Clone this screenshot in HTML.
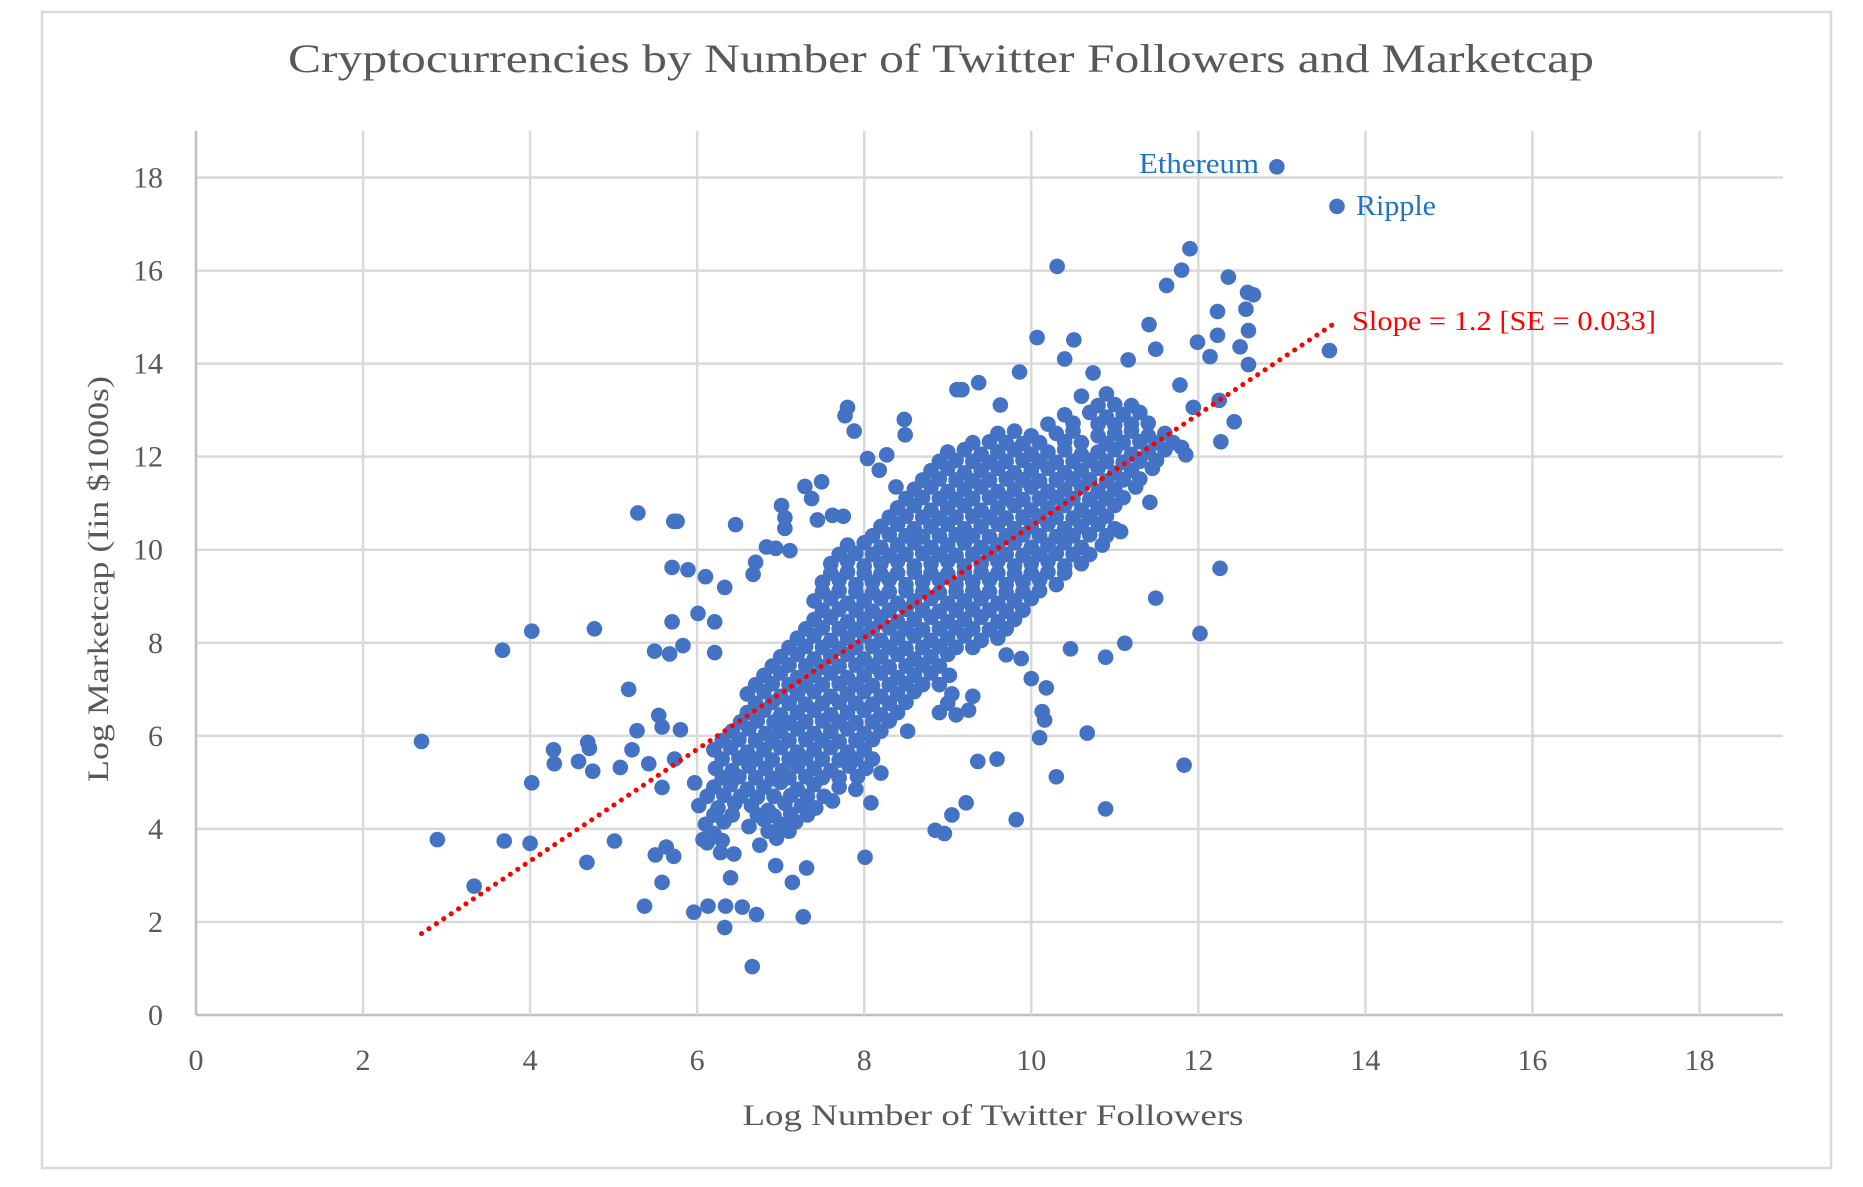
<!DOCTYPE html>
<html><head><meta charset="utf-8"><style>
html,body{margin:0;padding:0;background:#fff;}
svg{display:block;font-family:"Liberation Serif",serif;}
</style></head><body>
<svg id="chart" width="1863" height="1187" viewBox="0 0 1863 1187" xmlns="http://www.w3.org/2000/svg">
<rect x="42" y="12" width="1789" height="1156" fill="#fff" stroke="#d9d9d9" stroke-width="2.5"/>
<text x="941" y="72" text-anchor="middle" font-size="40" fill="#595959" textLength="1306" lengthAdjust="spacingAndGlyphs">Cryptocurrencies by Number of Twitter Followers and Marketcap</text>
<g id="grid"></g>
<g id="ticks"></g>
<g id="trend"></g>
<g id="points"></g>
<text x="993" y="1125" text-anchor="middle" font-size="30" fill="#595959" textLength="501" lengthAdjust="spacingAndGlyphs">Log Number of Twitter Followers</text>
<text transform="translate(108,579) rotate(-90)" text-anchor="middle" font-size="30" fill="#595959" textLength="406" lengthAdjust="spacingAndGlyphs">Log Marketcap (Iin $1000s)</text>
<text x="1259" y="173" text-anchor="end" font-size="29" fill="#1f73c0" textLength="120" lengthAdjust="spacingAndGlyphs">Ethereum</text>
<text x="1356" y="215" font-size="29" fill="#1f73c0" textLength="80" lengthAdjust="spacingAndGlyphs">Ripple</text>
<text x="1352" y="330" font-size="27" fill="#ff0000" textLength="304" lengthAdjust="spacingAndGlyphs">Slope = 1.2 [SE = 0.033]</text>
</svg>
<script>
const xTicks=[0,2,4,6,8,10,12,14,16,18];
const yTicks=[0,2,4,6,8,10,12,14,16,18];
const xMax=19, yMax=19;
const trendX=[2.7,13.6];
const trendSlope=1.2, trendIntercept=-1.49;
const highlights=[[12.94,18.23],[13.66,17.38]];
const outliers=[[2.70,5.88],[2.89,3.77],[3.33,2.77],[3.67,7.84],[3.69,3.74],[4.0,3.69],[4.02,8.25],[4.02,4.99],[4.28,5.7],[4.29,5.4],[4.58,5.45],[4.69,5.86],[4.71,5.73],[4.68,3.28],[4.75,5.24],[4.77,8.30],[5.01,3.74],[5.08,5.32],[5.18,7.0],[5.22,5.7],[5.28,6.11],[5.29,10.79],[5.37,2.34],[5.42,5.40],[5.49,7.82],[5.50,3.44],[5.54,6.44],[5.58,2.85],[5.58,6.19],[5.58,4.89],[5.63,3.61],[5.67,7.76],[5.70,8.45],[5.70,9.62],[5.72,10.61],[5.76,10.61],[5.72,3.41],[5.73,5.5],[5.80,6.13],[5.83,7.94],[5.89,9.57],[5.96,2.21],[5.97,4.99],[6.01,8.63],[6.07,3.77],[6.10,9.42],[6.13,2.34],[6.21,8.45],[6.21,7.79],[6.28,3.49],[6.33,1.88],[6.33,9.19],[6.34,2.34],[6.40,2.95],[6.44,3.46],[6.46,10.54],[6.54,2.32],[6.66,1.04],[6.71,2.16],[7.27,2.11],[7.14,2.85],[6.94,3.21],[7.31,3.16],[7.01,10.95],[7.05,10.69],[7.05,10.46],[7.29,11.36],[7.49,11.46],[7.77,12.88],[7.80,13.06],[7.88,12.55],[8.01,3.39],[8.08,4.56],[8.48,12.8],[8.49,12.47],[8.85,3.97],[8.96,3.90],[9.05,4.30],[9.22,4.56],[9.36,5.45],[9.59,5.5],[9.82,4.20],[10.30,5.12],[10.89,4.43],[10.67,6.06],[11.83,5.37],[10.13,6.52],[10.18,7.03],[10.10,5.96],[10.16,6.34],[10.00,7.23],[9.70,7.74],[9.88,7.66],[12.02,8.20],[12.26,9.6],[11.49,8.96],[11.12,7.99],[10.89,7.69],[10.47,7.87],[11.42,11.02],[11.07,10.39],[10.31,16.09],[11.90,16.47],[11.80,16.01],[11.62,15.68],[12.36,15.86],[12.59,15.53],[12.66,15.48],[12.57,15.17],[12.23,15.12],[12.23,14.61],[12.60,14.71],[11.99,14.46],[12.14,14.15],[12.50,14.36],[12.60,13.98],[13.57,14.28],[11.41,14.84],[11.49,14.31],[10.07,14.56],[10.51,14.51],[10.40,14.10],[9.86,13.82],[10.74,13.80],[11.16,14.08],[12.43,12.75],[12.27,12.32],[11.85,12.04],[12.25,13.21],[11.94,13.06],[11.78,13.54],[9.17,13.44],[9.37,13.59],[9.63,13.11],[9.11,13.44],[8.27,12.04],[8.04,11.96],[8.18,11.71],[8.38,11.35],[7.75,10.72],[7.62,10.74],[7.44,10.64],[7.37,11.10],[6.83,10.06],[6.94,10.03],[7.11,9.98],[6.70,9.73],[6.67,9.47]];
const core=[[6.12,3.7],[6.3,3.75],[6.75,3.65],[6.95,3.8],
[6.1,4.1],[6.32,4.15],[6.62,4.05],[6.8,4.2],[7.0,4.1],[7.18,4.15],
[6.02,4.5],[6.25,4.45],[6.45,4.55],[6.65,4.5],[6.85,4.4],[7.05,4.55],[7.25,4.5],[7.42,4.45],[7.62,4.6],
[6.2,4.9],[6.4,4.95],[6.6,4.85],[6.8,4.9],[7.0,5.0],[7.2,4.85],[7.4,4.95],[7.7,4.9],[7.9,4.85],
[6.22,5.3],[6.42,5.25],[6.62,5.35],[6.82,5.3],[7.02,5.25],[7.2,5.35],[7.4,5.3],[7.6,5.25],[7.82,5.35],[8.02,5.3],[8.2,5.2],
[6.2,5.7],[6.4,5.75],[6.6,5.65],[6.8,5.7],[7.0,5.75],[7.2,5.65],[7.4,5.7],[7.6,5.75],[7.8,5.65],[8.0,5.7],
[6.42,6.1],[6.62,6.15],[6.82,6.05],[7.0,6.1],[7.2,6.15],[7.4,6.05],[7.6,6.1],[7.8,6.15],[8.0,6.05],[8.2,6.1],[8.52,6.1],
[6.6,6.5],[6.8,6.55],[7.0,6.45],[7.2,6.5],[7.4,6.55],[7.6,6.45],[7.8,6.5],[8.0,6.55],[8.2,6.45],[8.4,6.5],[8.9,6.5],[9.1,6.45],[9.25,6.55],
[6.6,6.9],[6.8,6.95],[7.0,6.85],[7.2,6.9],[7.4,6.95],[7.6,6.85],[7.8,6.9],[8.0,6.95],[8.2,6.85],[8.4,6.9],[8.6,6.95],[9.05,6.9],[9.3,6.85],
[6.8,7.3],[7.0,7.35],[7.2,7.25],[7.4,7.3],[7.6,7.35],[7.8,7.25],[8.0,7.3],[8.2,7.35],[8.4,7.25],[8.6,7.3],[8.8,7.35],[9.02,7.3],
[7.0,7.7],[7.2,7.75],[7.4,7.65],[7.6,7.7],[7.8,7.75],[8.0,7.65],[8.2,7.7],[8.4,7.75],[8.6,7.65],[8.8,7.7],[9.0,7.75],
[7.2,8.1],[7.4,8.15],[7.6,8.05],[7.8,8.1],[8.0,8.15],[8.2,8.05],[8.4,8.1],[8.6,8.15],[8.8,8.05],[9.0,8.1],[9.2,8.15],[9.4,8.05],[9.6,8.1],
[7.4,8.5],[7.6,8.55],[7.8,8.45],[8.0,8.5],[8.2,8.55],[8.4,8.45],[8.6,8.5],[8.8,8.55],[9.0,8.45],[9.2,8.5],[9.4,8.55],[9.6,8.45],[9.8,8.5],
[7.4,8.9],[7.6,8.95],[7.8,8.85],[8.0,8.9],[8.2,8.95],[8.4,8.85],[8.6,8.9],[8.8,8.95],[9.0,8.85],[9.2,8.9],[9.4,8.95],[9.6,8.85],[9.8,8.9],[10.0,8.95],
[7.5,9.3],[7.7,9.35],[7.9,9.25],[8.1,9.3],[8.3,9.35],[8.5,9.25],[8.7,9.3],[8.9,9.35],[9.1,9.25],[9.3,9.3],[9.5,9.35],[9.7,9.25],[9.9,9.3],[10.1,9.35],[10.3,9.25],
[7.6,9.7],[7.8,9.75],[8.0,9.65],[8.2,9.7],[8.4,9.75],[8.6,9.65],[8.8,9.7],[9.0,9.75],[9.2,9.65],[9.4,9.7],[9.6,9.75],[9.8,9.65],[10.0,9.7],[10.2,9.75],[10.4,9.65],[10.6,9.7],
[7.8,10.1],[8.0,10.15],[8.2,10.05],[8.4,10.1],[8.6,10.15],[8.8,10.05],[9.0,10.1],[9.2,10.15],[9.4,10.05],[9.6,10.1],[9.8,10.15],[10.0,10.05],[10.2,10.1],[10.4,10.15],[10.6,10.05],[10.85,10.1],
[8.2,10.5],[8.4,10.55],[8.6,10.45],[8.8,10.5],[9.0,10.55],[9.2,10.45],[9.4,10.5],[9.6,10.55],[9.8,10.45],[10.0,10.5],[10.2,10.55],[10.4,10.45],[10.6,10.5],[10.8,10.55],[11.0,10.45],
[8.4,10.9],[8.6,10.95],[8.8,10.85],[9.0,10.9],[9.2,10.95],[9.4,10.85],[9.6,10.9],[9.8,10.95],[10.0,10.85],[10.2,10.9],[10.4,10.95],[10.6,10.85],[10.8,10.9],[11.0,10.95],
[8.6,11.3],[8.8,11.35],[9.0,11.25],[9.2,11.3],[9.4,11.35],[9.6,11.25],[9.8,11.3],[10.0,11.35],[10.2,11.25],[10.4,11.3],[10.6,11.35],[10.8,11.25],[11.0,11.3],[11.25,11.35],
[8.8,11.7],[9.0,11.75],[9.2,11.65],[9.4,11.7],[9.6,11.75],[9.8,11.65],[10.0,11.7],[10.2,11.75],[10.4,11.65],[10.6,11.7],[10.8,11.75],[11.0,11.65],[11.2,11.7],[11.45,11.75],
[9.0,12.1],[9.2,12.15],[9.4,12.05],[9.6,12.1],[9.8,12.15],[10.0,12.05],[10.2,12.1],[10.4,12.15],[10.6,12.05],[10.8,12.1],[11.0,12.15],[11.2,12.05],[11.4,12.1],[11.6,12.15],[11.8,12.2],
[9.6,12.5],[9.8,12.55],[10.0,12.45],[10.3,12.5],[10.5,12.55],[10.8,12.45],[11.0,12.5],[11.2,12.55],[11.4,12.45],[11.6,12.5],
[10.4,12.9],[10.7,12.95],[10.9,12.85],[11.1,12.9],[11.3,12.95],
[10.6,13.3],[10.9,13.35]];
const core2=[[6.2,3.9],[6.85,3.95],[7.1,3.95],
[6.2,4.3],[6.42,4.3],[6.72,4.3],[6.92,4.28],[7.12,4.32],[7.32,4.3],
[6.12,4.7],[6.32,4.72],[6.52,4.7],[6.72,4.68],[6.92,4.7],[7.12,4.72],[7.32,4.7],[7.52,4.7],
[6.3,5.1],[6.5,5.12],[6.7,5.1],[6.9,5.08],[7.1,5.1],[7.3,5.12],[7.5,5.1],[7.7,5.1],[7.92,5.12],
[6.3,5.5],[6.5,5.52],[6.7,5.5],[6.9,5.48],[7.1,5.5],[7.3,5.52],[7.5,5.5],[7.7,5.48],[7.9,5.5],[8.1,5.5],
[6.3,5.9],[6.5,5.92],[6.7,5.9],[6.9,5.88],[7.1,5.9],[7.3,5.92],[7.5,5.9],[7.7,5.88],[7.9,5.9],[8.1,5.92],
[6.52,6.3],[6.72,6.32],[6.92,6.3],[7.1,6.28],[7.3,6.3],[7.5,6.32],[7.7,6.3],[7.9,6.28],[8.1,6.3],[8.3,6.32],
[6.7,6.7],[6.9,6.72],[7.1,6.7],[7.3,6.68],[7.5,6.7],[7.7,6.72],[7.9,6.7],[8.1,6.68],[8.3,6.7],[8.5,6.72],[9.0,6.7],
[6.7,7.1],[6.9,7.12],[7.1,7.1],[7.3,7.08],[7.5,7.1],[7.7,7.12],[7.9,7.1],[8.1,7.08],[8.3,7.1],[8.5,7.12],[8.7,7.1],[8.9,7.1],
[6.9,7.5],[7.1,7.52],[7.3,7.5],[7.5,7.48],[7.7,7.5],[7.9,7.52],[8.1,7.5],[8.3,7.48],[8.5,7.5],[8.7,7.52],[8.9,7.5],
[7.1,7.9],[7.3,7.92],[7.5,7.9],[7.7,7.88],[7.9,7.9],[8.1,7.92],[8.3,7.9],[8.5,7.88],[8.7,7.9],[8.9,7.92],[9.1,7.9],[9.3,7.9],
[7.3,8.3],[7.5,8.32],[7.7,8.3],[7.9,8.28],[8.1,8.3],[8.3,8.32],[8.5,8.3],[8.7,8.28],[8.9,8.3],[9.1,8.32],[9.3,8.3],[9.5,8.28],[9.7,8.3],
[7.5,8.7],[7.7,8.72],[7.9,8.7],[8.1,8.68],[8.3,8.7],[8.5,8.72],[8.7,8.7],[8.9,8.68],[9.1,8.7],[9.3,8.72],[9.5,8.7],[9.7,8.68],[9.9,8.7],
[7.5,9.1],[7.7,9.12],[7.9,9.1],[8.1,9.08],[8.3,9.1],[8.5,9.12],[8.7,9.1],[8.9,9.08],[9.1,9.1],[9.3,9.12],[9.5,9.1],[9.7,9.08],[9.9,9.1],[10.1,9.12],
[7.6,9.5],[7.8,9.52],[8.0,9.5],[8.2,9.48],[8.4,9.5],[8.6,9.52],[8.8,9.5],[9.0,9.48],[9.2,9.5],[9.4,9.52],[9.6,9.5],[9.8,9.48],[10.0,9.5],[10.2,9.52],[10.4,9.5],
[7.7,9.9],[7.9,9.92],[8.1,9.9],[8.3,9.88],[8.5,9.9],[8.7,9.92],[8.9,9.9],[9.1,9.88],[9.3,9.9],[9.5,9.92],[9.7,9.9],[9.9,9.88],[10.1,9.9],[10.3,9.92],[10.5,9.9],[10.7,9.9],
[8.1,10.3],[8.3,10.32],[8.5,10.3],[8.7,10.28],[8.9,10.3],[9.1,10.32],[9.3,10.3],[9.5,10.28],[9.7,10.3],[9.9,10.32],[10.1,10.3],[10.3,10.28],[10.5,10.3],[10.7,10.32],[10.9,10.3],
[8.3,10.7],[8.5,10.72],[8.7,10.7],[8.9,10.68],[9.1,10.7],[9.3,10.72],[9.5,10.7],[9.7,10.68],[9.9,10.7],[10.1,10.72],[10.3,10.7],[10.5,10.68],[10.7,10.7],[10.9,10.72],
[8.5,11.1],[8.7,11.12],[8.9,11.1],[9.1,11.08],[9.3,11.1],[9.5,11.12],[9.7,11.1],[9.9,11.08],[10.1,11.1],[10.3,11.12],[10.5,11.1],[10.7,11.08],[10.9,11.1],[11.1,11.12],
[8.7,11.5],[8.9,11.52],[9.1,11.5],[9.3,11.48],[9.5,11.5],[9.7,11.52],[9.9,11.5],[10.1,11.48],[10.3,11.5],[10.5,11.52],[10.7,11.5],[10.9,11.48],[11.1,11.5],[11.3,11.52],
[8.9,11.9],[9.1,11.92],[9.3,11.9],[9.5,11.88],[9.7,11.9],[9.9,11.92],[10.1,11.9],[10.3,11.88],[10.5,11.9],[10.7,11.92],[10.9,11.9],[11.1,11.88],[11.3,11.9],[11.5,11.92],
[9.3,12.3],[9.5,12.32],[9.7,12.3],[9.9,12.28],[10.1,12.3],[10.4,12.32],[10.6,12.3],[10.9,12.28],[11.1,12.3],[11.3,12.32],[11.5,12.3],[11.7,12.3],
[10.2,12.7],[10.5,12.72],[10.8,12.7],[11.0,12.68],[11.2,12.7],[11.4,12.72],
[10.8,13.1],[11.0,13.12],[11.2,13.1]];

const NS="http://www.w3.org/2000/svg";
const L=196,R=1783,T=131,B=1015;
function sx(v){return L+v*(R-L)/xMax;}
function sy(v){return B-v*(B-T)/yMax;}
function mk(tag,attrs,parent){const e=document.createElementNS(NS,tag);for(const k in attrs)e.setAttribute(k,attrs[k]);parent.appendChild(e);return e;}
const grid=document.getElementById('grid'),ticks=document.getElementById('ticks');
yTicks.forEach(v=>{
  const ln=mk('line',{x1:L,x2:R,y1:sy(v),y2:sy(v),stroke:v===0?'#bfbfbf':'#d9d9d9','stroke-width':2.5},grid);
  
  
  const t=mk('text',{x:163,y:sy(v)+10,'text-anchor':'end','font-size':30,fill:'#595959'},ticks);
  t.textContent=v;
  
  
});
xTicks.forEach(v=>{
  const ln=mk('line',{x1:sx(v),x2:sx(v),y1:T,y2:B,stroke:v===0?'#bfbfbf':'#d9d9d9','stroke-width':2.5},grid);
  
  
  const t=mk('text',{x:sx(v),y:1070,'text-anchor':'middle','font-size':30,fill:'#595959'},ticks);
  t.textContent=v;
  
  
});
const tr=document.getElementById('trend');
const tl=mk('line',{x1:sx(trendX[0]),y1:sy(trendSlope*trendX[0]+trendIntercept),x2:sx(trendX[1]),y2:sy(trendSlope*trendX[1]+trendIntercept),stroke:'#ff0000','stroke-width':5,'stroke-linecap':'round','stroke-dasharray':'0.1 8.8'},tr);


const pg=document.getElementById('points');
core.concat(core2).concat(outliers).concat(highlights).forEach(p=>{
  const c=mk('circle',{cx:sx(p[0]),cy:sy(p[1]),r:7.8,fill:'#4472c4'},pg);
  
  
});
pg.appendChild(tr);
</script>
</body></html>
